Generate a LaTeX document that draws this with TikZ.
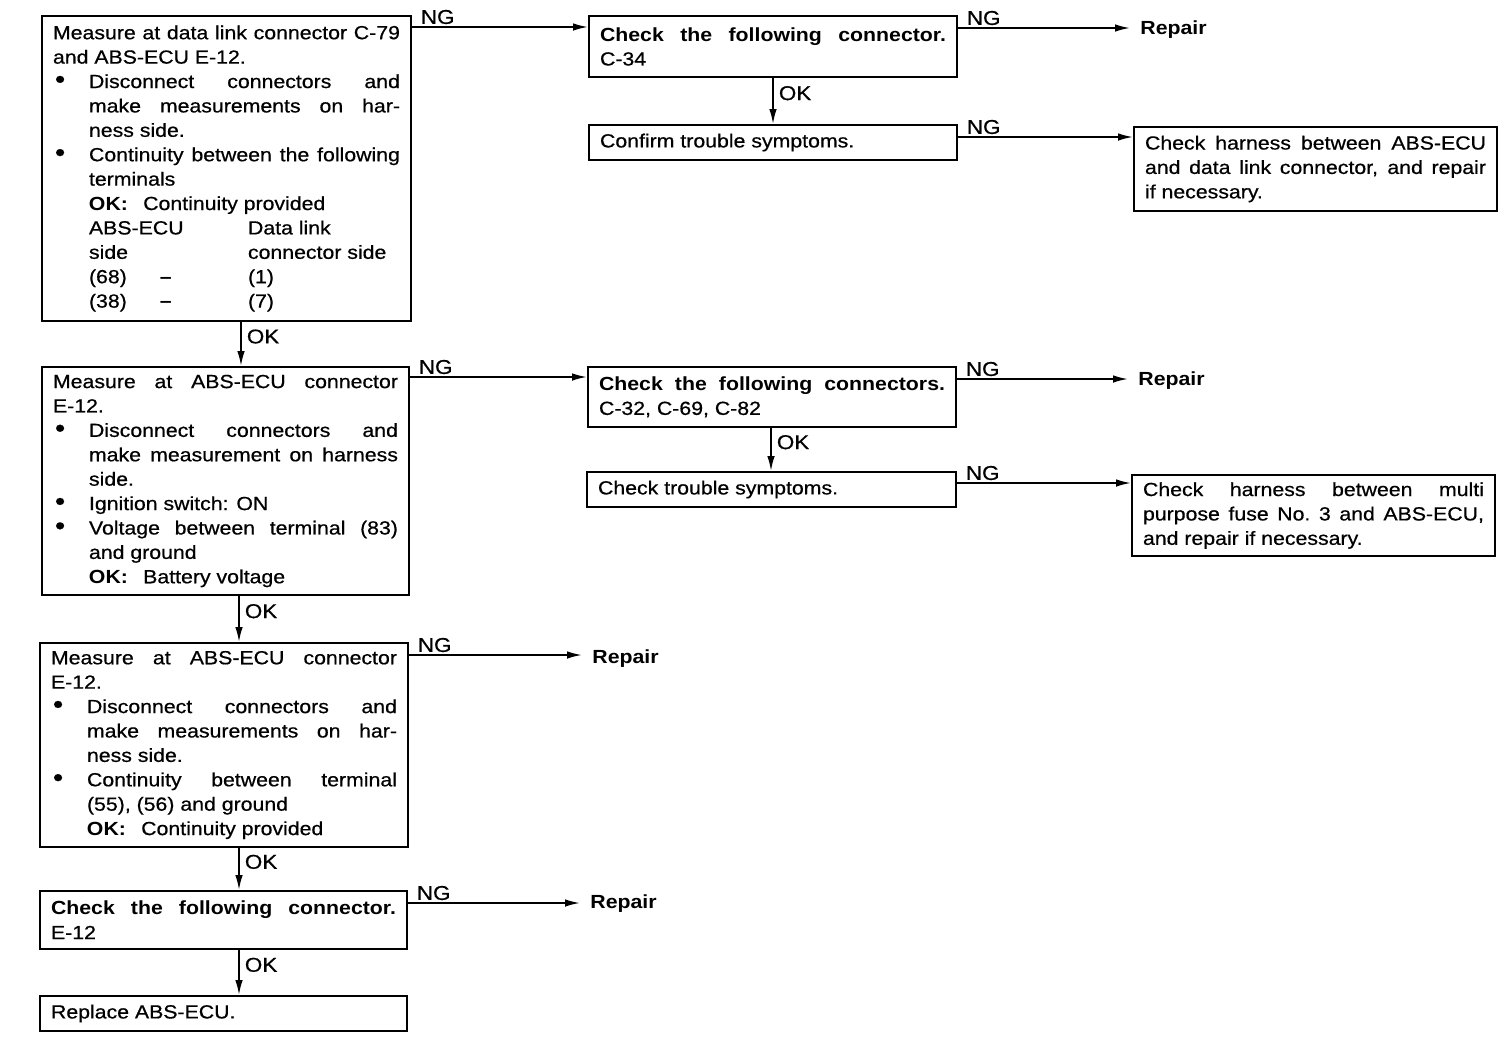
\documentclass[tikz,border=0pt]{standalone}
\usepackage{fontspec}
\setmainfont{Liberation Sans}[FakeStretch=1.12, UprightFeatures={FakeBold=0.6}]
\usetikzlibrary{arrows.meta,calc}
\newcommand{\bul}{\makebox[18pt][l]{\hspace{1pt}{\fontsize{13}{12.2}\selectfont\textbullet}}}
\newcommand{\bpar}{\par\noindent\hangindent=18pt\hangafter=1\bul}
\newcommand{\ipar}{\par\noindent\hspace*{18pt}}
\newcommand{\txtfont}{\fontsize{9.5}{12.2}\selectfont\hyphenpenalty=10000\exhyphenpenalty=10000\parindent=0pt\parskip=0pt}
\begin{document}
\begin{tikzpicture}[x=0.5pt,y=-0.5pt,
  box/.style={draw, line width=1pt, rectangle, anchor=north west, inner xsep=5.5pt, inner ysep=1pt, align=justify, font=\txtfont},
  lab/.style={font=\fontsize{10}{11}\selectfont, inner sep=1pt},
  rep/.style={font=\fontsize{9.5}{11}\selectfont\bfseries, anchor=west, inner xsep=5pt, inner ysep=1pt},
  arr/.style={line width=0.9pt, -{Latex[length=7.5pt,width=3.8pt]}},
  ng/.style={pos=0, anchor=south west, xshift=3pt, lab},
  ok/.style={pos=0.33, anchor=west, xshift=1.5pt, lab}]
\useasboundingbox (0,0) rectangle (1504,1062);

% left column
\node[box, text width=173.5pt, minimum height=152.5pt] (b1) at (41,15) {\noindent Measure at data link connector C-79\linebreak and ABS-ECU E-12.
\bpar Disconnect connectors and\linebreak make measurements on har-\linebreak ness side.
\bpar Continuity between the following\linebreak terminals
\ipar\textbf{OK:}\hspace{0.8em}Continuity provided
\ipar\makebox[79.5pt][l]{ABS-ECU}Data link
\ipar\makebox[79.5pt][l]{side}connector side
\ipar\makebox[35.5pt][l]{(68)}\makebox[44pt][l]{\textbf{\textendash}}(1)
\ipar\makebox[35.5pt][l]{(38)}\makebox[44pt][l]{\textbf{\textendash}}(7)};

\node[box, text width=172.5pt, minimum height=114pt] (b5) at (41,366) {\noindent Measure at ABS-ECU connector\linebreak E-12.
\bpar Disconnect connectors and\linebreak make measurement on harness\linebreak side.
\bpar Ignition switch: ON
\bpar Voltage between terminal (83)\linebreak and ground
\ipar\textbf{OK:}\hspace{0.8em}Battery voltage};

\node[box, text width=173pt, minimum height=102pt] (b9) at (39,642) {\noindent Measure at ABS-ECU connector\linebreak E-12.
\bpar Disconnect connectors and\linebreak make measurements on har-\linebreak ness side.
\bpar Continuity between terminal\linebreak (55), (56) and ground
\ipar\textbf{OK:}\hspace{0.8em}Continuity provided};

\node[box, text width=172.5pt, minimum height=29pt] (b10) at (39,890) {\noindent\textbf{Check the following connector.}\linebreak E-12};

\node[box, text width=172.5pt, minimum height=17.5pt] (b11) at (39,995) {\noindent Replace ABS-ECU.};

% middle column
\node[box, text width=173pt, minimum height=30.5pt] (b2) at (588,15) {\noindent\textbf{Check the following connector.}\linebreak C-34};
\node[box, text width=173pt, minimum height=17.5pt] (b3) at (588,124) {\noindent Confirm trouble symptoms.};
\node[box, text width=173pt, minimum height=30pt] (b6) at (587,366) {\noindent\textbf{Check the following connectors.}\linebreak C-32, C-69, C-82};
\node[box, text width=173.5pt, minimum height=17.5pt] (b7) at (586,471) {\noindent Check trouble symptoms.};

% right column
\node[box, text width=170.5pt, minimum height=42pt] (b4) at (1133,126) {\noindent Check harness between ABS-ECU\linebreak and data link connector, and repair\linebreak if necessary.};
\node[box, text width=170.5pt, minimum height=40.5pt] (b8) at (1131,474) {\noindent Check harness between multi\linebreak purpose fuse No.~3 and ABS-ECU,\linebreak and repair if necessary.};

% repair texts
\node[rep] (r1) at (1130,30) {Repair};
\node[rep] (r2) at (1128,381) {Repair};
\node[rep] (r3) at (582,659) {Repair};
\node[rep] (r4) at (580,904) {Repair};

% NG connectors
\coordinate (s1) at ([yshift=-6pt]b1.north east);
\coordinate (s2) at ([yshift=-6.5pt]b2.north east);
\coordinate (s3) at ([yshift=-6.5pt]b3.north east);
\coordinate (s4) at ([yshift=-5.5pt]b5.north east);
\coordinate (s5) at ([yshift=-6.5pt]b6.north east);
\coordinate (s6) at ([yshift=-6pt]b7.north east);
\coordinate (s7) at ([yshift=-6.5pt]b9.north east);
\coordinate (s8) at ([yshift=-6.5pt]b10.north east);
\draw[arr] (s1) -- node[ng]{NG} (s1 -| b2.west);
\draw[arr] (s2) -- node[ng]{NG} (s2 -| r1.west);
\draw[arr] (s3) -- node[ng]{NG} (s3 -| b4.west);
\draw[arr] (s4) -- node[ng]{NG} (s4 -| b6.west);
\draw[arr] (s5) -- node[ng]{NG} (s5 -| r2.west);
\draw[arr] (s6) -- node[ng]{NG} (s6 -| b8.west);
\draw[arr] (s7) -- node[ng]{NG} (s7 -| r3.west);
\draw[arr] (s8) -- node[ng]{NG} (s8 -| r4.west);

% OK connectors
\coordinate (v1) at ([xshift=7.25pt]b1.south);
\coordinate (v2) at (b2.south);
\coordinate (v3) at ([xshift=6.75pt]b5.south);
\coordinate (v4) at ([xshift=-0.5pt]b6.south);
\coordinate (v5) at ([xshift=7.5pt]b9.south);
\coordinate (v6) at ([xshift=7.75pt]b10.south);
\draw[arr] (v1) -- node[ok]{OK} (v1 |- b5.north);
\draw[arr] (v2) -- node[ok]{OK} (v2 |- b3.north);
\draw[arr] (v3) -- node[ok]{OK} (v3 |- b9.north);
\draw[arr] (v4) -- node[ok]{OK} (v4 |- b7.north);
\draw[arr] (v5) -- node[ok]{OK} (v5 |- b10.north);
\draw[arr] (v6) -- node[ok]{OK} (v6 |- b11.north);
\end{tikzpicture}
\end{document}
